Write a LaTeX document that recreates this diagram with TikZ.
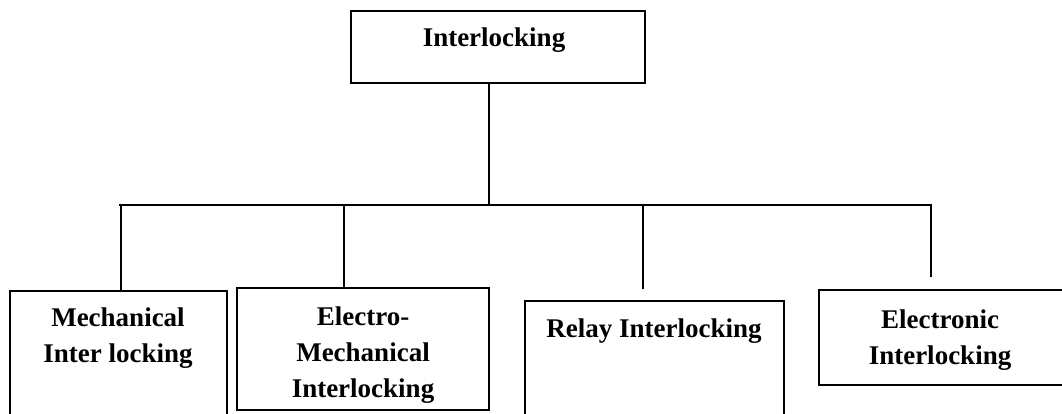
\documentclass[tikz,border=0pt]{standalone}
\usepackage{fontspec}
\setmainfont{Liberation Serif}
\begin{document}
\begin{tikzpicture}[x=1pt,y=-1pt,
  box/.style={draw=black,line width=1.8pt,rectangle,outer sep=0pt,inner sep=0pt,anchor=north west},
  lbl/.style={font=\fontsize{27}{36}\selectfont\bfseries,align=center,anchor=base,inner sep=0pt},
  wire/.style={draw=black,line width=2pt}]
\useasboundingbox (0,0) rectangle (1062,413);
% boxes
\node[box,minimum width=294pt,minimum height=72pt] (top) at (351,11) {};
\node[box,minimum width=217pt,minimum height=140pt] (mech) at (10,291) {};
\node[box,minimum width=252pt,minimum height=122pt] (emech) at (237,288) {};
\node[box,minimum width=259pt,minimum height=130pt] (relay) at (525,301) {};
\node[box,minimum width=250pt,minimum height=95pt] (elec) at (819,290) {};
% texts (anchor=base is the baseline of the last line)
\node[lbl] (ttop) at (494,46) {Interlocking};
\node[lbl] (tmech) at (118,362) {Mechanical\\Inter locking};
\node[lbl] (temech) at (363,397) {Electro-\\Mechanical\\Interlocking};
\node[lbl] (trelay) at (654,337) {Relay Interlocking};
\node[lbl] (telec) at (940,364) {Electronic\\Interlocking};
% bus coordinates
\coordinate (j) at (489,205);
\coordinate (hl) at (119,205);
\coordinate (hr) at (932,205);
\coordinate (b1) at (121,205);
\coordinate (b2) at (344,205);
\coordinate (b3) at (643,205);
\coordinate (b4) at (931,205);
\coordinate (e3) at (643,289);
\coordinate (e4) at (931,277);
% connectors
\draw[wire] (top.south -| j) -- (j);
\draw[wire] (hl) -- (hr);
\draw[wire] (b1) -- (b1 |- mech.north);
\draw[wire] (b2) -- (b2 |- emech.north);
\draw[wire] (b3) -- (e3);
\draw[wire] (b4) -- (e4);
\end{tikzpicture}
\end{document}
